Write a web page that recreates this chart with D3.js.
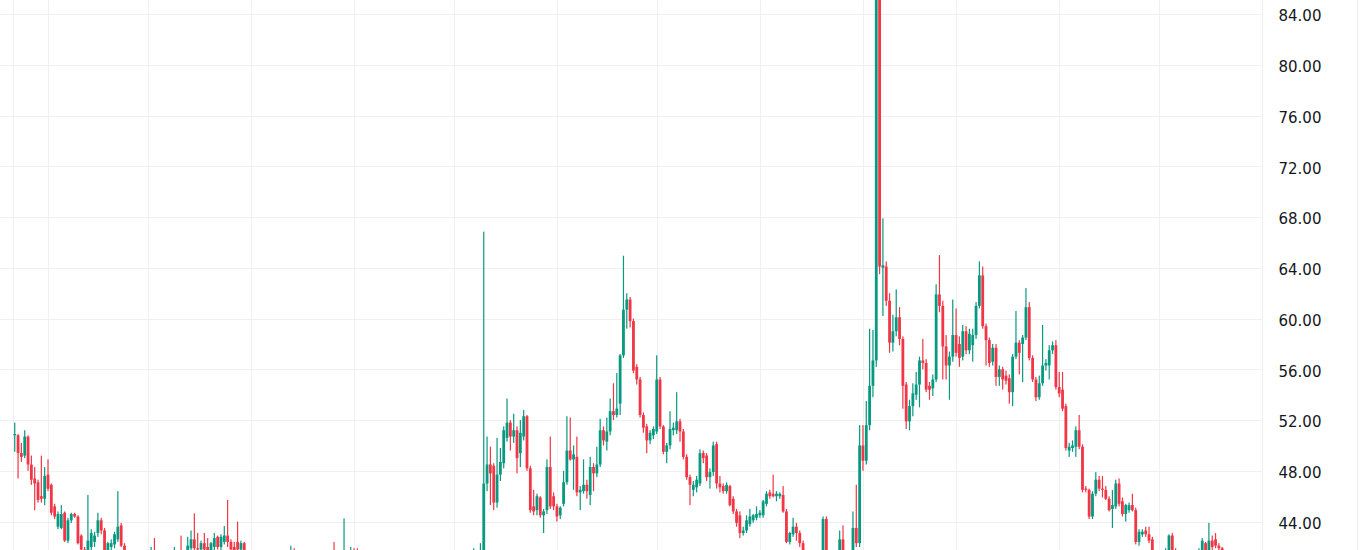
<!DOCTYPE html>
<html><head><meta charset="utf-8">
<script src="https://cdn.jsdelivr.net/npm/d3@7"></script>
<style>html,body{margin:0;padding:0;background:#fff;overflow:hidden}</style>
</head><body>
<svg id="chart" width="1370" height="550"></svg>
<script>
// ---- data (daily candles, first candle 2024-05-22) ----
const firstDay = "2024-05-22";
const gridDates = ["2024-06-01","2024-07-01","2024-08-01","2024-09-01","2024-10-01","2024-11-01","2024-12-01","2025-01-01","2025-02-01","2025-03-01","2025-04-01","2025-05-01"];
const yTicks = [44,48,52,56,60,64,68,72,76,80,84];

const opens = [
50.8,50.8,49.4,49.2,50.7,48.5,47.4,47.1,46.0,45.8,
47.7,46.9,45.2,43.6,43.5,44.7,42.5,44.1,44.6,44.4,
42.9,41.8,41.0,42.0,42.4,43.1,44.1,43.3,41.7,42.0,
42.2,42.6,43.7,42.1,41.2,40.6,41.0,40.7,40.2,40.5,
40.9,40.6,41.3,41.0,40.4,40.7,40.5,40.8,40.6,41.1,
41.4,41.2,41.5,41.9,42.6,41.9,41.8,42.3,42.0,41.5,
42.0,42.8,42.0,42.4,42.9,42.4,42.0,42.4,41.8,42.3,
41.2,40.6,40.3,40.6,40.3,39.9,40.2,40.5,40.2,39.9,
40.1,40.4,40.8,40.5,41.2,40.8,40.4,40.6,40.2,40.0,
40.3,40.1,40.4,40.7,40.4,40.8,41.0,40.7,40.9,41.1,
41.5,41.0,41.4,41.2,40.9,40.5,40.8,40.3,40.6,40.4,
40.0,40.3,40.7,40.4,40.1,39.8,40.2,40.5,40.3,39.9,
40.3,40.6,40.4,40.7,40.5,40.1,40.4,40.6,40.3,40.0,
40.4,40.8,40.6,40.3,40.6,40.9,40.6,40.8,40.5,41.0,
40.7,40.8,47.0,48.5,48.4,45.5,47.7,48.6,50.6,51.8,
50.7,51.2,49.4,50.7,52.3,48.2,45.2,44.9,45.9,44.5,
44.9,48.3,46.0,45.2,44.5,45.4,47.1,49.6,48.9,49.1,
46.3,46.4,46.9,46.1,48.3,47.8,48.5,51.2,50.3,51.1,
52.7,52.4,53.3,57.1,60.7,61.5,59.8,56.2,55.2,52.4,
51.5,50.4,50.8,51.1,55.2,51.5,49.5,50.0,51.2,51.2,
51.9,51.1,49.1,47.5,46.5,46.7,47.0,49.4,49.2,47.5,
47.9,50.1,47.0,46.8,46.4,46.8,45.8,44.8,44.5,43.1,
43.3,43.8,44.1,44.3,44.5,44.5,45.4,46.3,46.2,46.0,
46.0,46.1,44.8,42.4,43.0,43.6,43.1,42.3,41.4,40.6,
40.1,40.8,41.1,40.9,44.2,41.0,40.3,40.7,40.4,42.6,
41.2,41.4,41.0,43.5,42.3,50.0,48.8,51.6,54.7,56.7,
93.0,64.0,64.1,61.4,58.1,59.0,60.1,58.4,54.8,51.9,
53.1,54.0,54.8,56.7,56.5,54.7,54.5,55.2,61.9,61.0,
57.8,56.3,57.0,58.7,58.0,57.0,59.0,57.5,57.9,58.7,
61.0,63.4,59.4,58.3,56.6,57.7,55.4,56.0,55.5,55.3,
54.2,57.0,58.1,58.0,58.5,60.9,56.9,55.2,53.8,54.9,
56.3,56.3,57.5,57.9,54.6,54.4,53.1,49.6,49.8,49.9,
51.2,49.9,46.6,46.5,44.4,46.2,47.3,46.6,46.5,45.8,
45.0,45.2,47.0,45.6,44.6,44.9,45.3,44.9,42.4,43.0,
43.3,43.0,42.6,41.4,40.8,40.5,40.9,41.4,42.9,41.6,
41.1,40.6,40.4,40.7,40.5,40.8,41.0,41.5,42.3,41.6,
42.5,42.6,42.1,41.9];

const highs = [
51.8,50.9,50.2,51.2,50.8,49.2,48.3,47.3,49.2,48.3,
48.9,47.0,45.4,44.8,45.3,44.8,44.3,44.7,44.7,44.5,
43.0,42.0,46.1,43.4,43.2,44.7,44.3,43.5,42.4,42.6,
43.2,46.4,43.9,42.3,41.5,41.2,41.4,41.0,40.8,41.1,
41.3,42.0,42.7,41.4,40.9,41.2,41.0,41.3,42.0,41.6,
42.9,41.6,42.8,43.3,44.65,43.1,42.5,43.1,42.7,42.4,
43.1,42.9,43.0,43.65,45.7,42.6,42.4,44.0,42.5,42.4,
41.5,41.1,40.9,41.0,40.7,40.5,40.8,40.9,40.6,40.4,
40.7,41.0,41.3,42.1,41.9,41.2,40.9,41.0,40.6,40.5,
40.8,40.6,40.9,41.1,40.9,41.3,42.4,41.2,41.4,44.25,
41.6,42.0,41.9,41.9,41.2,41.0,41.1,40.8,41.0,40.7,
40.6,40.9,41.1,40.8,40.5,40.4,40.7,40.9,40.6,40.5,
40.8,41.0,40.9,41.2,40.8,40.7,40.9,41.0,40.7,40.6,
41.0,41.2,41.0,40.8,41.1,41.3,41.0,41.2,41.9,41.4,
42.3,66.85,50.7,49.9,48.6,50.6,49.8,51.5,53.7,52.0,
52.5,51.5,52.0,52.8,52.4,48.4,46.5,46.2,46.0,45.0,
48.9,50.7,46.3,45.4,45.2,48.0,52.3,52.2,50.0,50.7,
46.8,48.9,47.3,49.1,48.6,49.9,52.1,51.5,52.2,53.7,
54.9,55.7,57.2,64.95,62.0,61.7,60.0,56.4,55.4,52.6,
51.7,51.2,51.5,57.1,55.4,51.6,50.2,52.7,51.8,54.2,
52.1,51.3,49.3,47.7,47.2,47.6,49.7,49.6,49.4,48.2,
50.3,50.3,47.6,47.0,47.1,46.9,46.0,45.0,44.8,43.6,
44.5,45.0,44.6,45.2,44.9,45.7,46.4,46.5,47.7,46.4,
46.3,46.8,45.0,43.2,44.3,43.9,43.3,42.5,41.6,41.0,
41.3,41.5,41.6,44.4,44.4,41.3,41.0,41.2,43.3,43.7,
41.6,41.7,44.8,46.9,51.6,51.6,53.5,59.2,59.1,95.0,
94.0,67.9,64.5,62.0,60.3,62.3,60.9,58.6,55.0,53.6,
54.9,55.8,57.0,58.4,56.8,55.0,55.6,62.7,65.0,61.4,
58.7,57.4,61.5,60.8,58.6,59.5,59.4,59.2,59.2,61.3,
64.5,64.1,59.6,58.5,58.0,58.0,56.3,56.2,55.9,55.6,
57.2,60.6,58.3,58.7,62.4,61.3,57.1,55.4,55.5,59.5,
56.8,57.9,58.2,58.3,55.8,55.8,53.3,50.2,50.4,51.5,
52.4,50.1,46.8,46.6,46.4,47.9,47.6,47.6,46.8,46.0,
46.5,47.3,47.4,45.9,45.4,45.5,46.2,45.1,43.4,43.4,
43.6,43.6,42.8,41.6,41.2,41.0,41.9,43.0,43.1,41.9,
41.4,41.0,40.9,41.2,41.0,41.3,41.9,42.7,42.4,43.9,
42.9,43.1,42.3,42.0];

const lows = [
49.5,47.4,48.7,49.0,48.0,46.9,44.9,45.5,45.5,45.3,
46.4,44.5,44.2,43.4,43.4,42.4,42.3,43.9,44.3,42.2,
41.6,40.5,40.7,41.5,42.0,42.8,43.0,41.4,41.3,41.6,
41.9,42.4,42.0,40.9,40.3,40.2,40.4,39.9,39.8,40.1,
40.3,40.4,40.8,40.2,39.8,40.2,40.0,40.4,40.3,40.6,
40.9,40.7,41.2,41.6,41.6,41.5,41.3,41.6,41.2,41.2,
41.7,41.8,41.7,42.2,42.0,41.6,41.2,41.5,41.6,40.9,
40.4,40.0,39.8,40.1,39.6,39.5,39.9,40.0,39.7,39.5,
39.8,40.1,40.3,40.3,40.6,40.1,39.9,40.0,39.7,39.6,
39.9,39.7,40.0,40.2,40.1,40.4,40.5,40.3,40.5,40.8,
40.7,40.8,40.9,40.7,40.2,40.1,40.0,39.9,40.2,39.8,
39.6,40.0,40.2,39.9,39.5,39.4,39.9,40.0,39.7,39.6,
39.9,40.2,40.0,40.3,39.9,39.8,40.1,40.2,39.8,39.7,
40.1,40.4,40.1,39.9,40.3,40.4,40.2,40.4,40.3,40.5,
40.5,40.5,46.4,45.3,44.9,45.1,47.2,48.2,50.3,49.6,
50.2,47.8,48.3,50.4,48.0,44.7,44.5,44.5,44.3,43.1,
44.6,45.0,44.9,44.0,44.2,45.2,46.9,48.8,46.5,46.0,
44.9,46.2,45.8,45.3,46.4,47.5,48.3,50.0,49.6,50.8,
52.0,52.2,52.4,56.9,59.2,59.3,55.7,54.8,52.2,51.0,
49.4,50.1,50.5,50.9,51.3,49.3,48.6,49.7,50.8,50.9,
50.3,48.9,47.3,45.3,46.0,46.3,46.8,48.6,47.2,46.6,
47.6,46.6,46.3,46.2,46.2,45.2,44.6,43.6,42.7,42.9,
43.1,43.6,43.9,44.1,44.3,44.3,45.2,45.8,45.9,45.6,
45.8,44.7,42.3,42.2,42.8,42.5,42.0,41.0,40.2,39.8,
39.7,40.3,40.5,40.6,40.8,39.9,39.8,40.0,40.2,40.8,
40.5,40.6,40.8,42.0,42.0,48.0,48.5,51.2,53.8,56.2,
63.5,60.2,61.0,57.3,57.4,58.6,57.9,52.9,51.3,51.2,
52.3,53.6,53.0,56.0,54.2,53.6,53.9,55.0,60.5,55.2,
55.2,53.6,56.6,57.0,56.2,56.7,57.2,57.2,56.6,58.4,
60.8,59.2,56.3,56.2,56.3,54.7,54.7,54.4,54.8,53.3,
53.1,56.8,55.6,55.0,58.3,56.7,55.0,53.5,53.6,54.7,
55.9,55.2,57.2,54.4,53.8,52.7,49.6,49.1,49.5,49.1,
49.7,46.3,46.3,44.2,44.2,46.0,46.4,45.9,45.7,44.8,
43.5,45.0,45.2,44.4,44.0,44.7,44.8,42.2,42.1,42.8,
42.8,42.3,41.0,40.5,40.2,40.0,40.6,41.1,41.3,40.8,
40.3,40.1,39.9,40.4,40.2,40.5,40.7,41.2,41.2,41.4,
41.7,41.9,41.6,41.3];

const closes = [
50.9,49.4,49.1,50.7,48.5,47.3,47.0,45.7,45.8,47.6,
46.6,44.7,44.4,44.6,44.6,42.5,44.1,44.6,44.4,42.3,
41.8,40.8,42.5,43.1,42.9,44.1,43.3,41.7,42.3,42.3,
43.0,43.6,42.1,41.2,40.6,41.0,40.7,40.2,40.5,40.9,
40.6,41.3,41.0,40.4,40.7,40.5,40.8,40.6,41.1,41.4,
41.2,41.5,42.1,42.6,41.9,41.8,42.3,41.8,41.5,42.3,
42.7,42.0,42.8,42.9,42.4,41.8,41.5,41.8,42.3,41.2,
40.6,40.3,40.6,40.3,39.9,40.2,40.5,40.2,39.9,40.1,
40.4,40.8,40.5,41.2,40.8,40.4,40.6,40.2,40.0,40.3,
40.1,40.4,40.7,40.4,40.8,41.0,40.7,40.9,41.1,41.5,
41.0,41.4,41.1,40.9,40.5,40.8,40.3,40.6,40.4,40.0,
40.3,40.7,40.4,40.1,39.8,40.2,40.5,40.3,39.9,40.3,
40.6,40.4,40.7,40.5,40.1,40.4,40.6,40.3,40.0,40.4,
40.8,40.6,40.3,40.6,40.9,40.6,40.8,40.5,41.0,40.7,
40.8,47.0,48.5,47.8,45.5,47.7,48.7,51.2,51.8,50.7,
51.2,49.0,51.0,52.3,48.2,44.9,44.8,46.0,44.5,44.8,
48.3,45.2,45.2,44.4,45.1,47.1,49.6,48.9,49.3,46.3,
46.5,46.9,46.4,48.3,47.8,48.5,51.2,50.4,51.1,52.7,
52.4,52.9,57.1,60.7,61.5,59.8,55.9,55.2,52.4,51.4,
50.4,51.0,51.3,55.2,51.5,49.5,50.0,51.3,51.4,51.9,
51.1,49.1,47.5,46.9,46.9,47.3,49.4,49.0,47.5,47.9,
50.0,47.0,46.7,46.4,46.9,45.3,44.8,43.9,43.1,43.3,
44.1,44.4,44.5,44.6,44.7,45.6,46.2,46.0,46.0,46.2,
46.2,44.8,42.4,43.1,43.6,43.1,42.3,41.4,40.6,40.1,
40.8,41.2,41.4,44.2,41.0,40.3,40.7,40.4,42.6,41.2,
41.4,41.0,43.5,42.3,50.0,48.8,51.6,54.7,56.7,93.0,
64.1,64.2,61.4,58.1,59.0,60.1,58.4,54.7,51.9,53.1,
54.1,54.8,56.7,56.5,54.4,54.4,55.2,61.9,61.0,57.8,
56.3,57.0,58.7,57.3,56.9,59.0,57.5,58.8,58.7,61.0,
63.4,59.4,58.3,56.5,57.7,55.4,56.0,55.2,55.1,54.2,
57.0,58.1,57.3,58.5,60.9,56.9,55.2,53.8,54.9,56.3,
56.5,57.5,57.9,54.6,54.1,52.9,49.8,49.9,50.0,51.2,
49.9,46.5,46.5,44.4,46.2,47.3,46.6,46.5,45.8,44.9,
45.3,47.0,45.4,44.6,45.3,45.3,44.9,42.4,43.2,43.2,
43.0,42.5,41.4,40.8,40.5,40.9,41.3,42.9,41.6,41.1,
40.6,40.4,40.7,40.5,40.8,41.0,41.5,42.5,41.6,42.5,
42.0,42.1,41.9,41.6];

// ---- layout ----
const W = 1370, H = 550;
const plotLeft = 13, plotRight = 1262.5, axisRight = 1357.5;
const upColor = "#089981", downColor = "#F23645";
const gridColor = "#f0f0f0";

const svg = d3.select("#chart");
svg.append("rect").attr("width", W).attr("height", H).attr("fill", "#fff");

const day = 864e5;
const t0 = Date.parse(firstDay + "T00:00:00Z");
const candles = opens.map((o, i) => ({
  date: new Date(t0 + i * day), o, h: highs[i], l: lows[i], c: closes[i]
}));

const x = d3.scaleUtc()
  .domain([new Date("2024-06-01T00:00:00Z"), new Date("2025-05-01T00:00:00Z")])
  .range([48, 1159]);
const y = d3.scaleLinear().domain([44, 84]).range([521.6, 14]);

// grid
const grid = svg.append("g");
grid.selectAll("line.h").data(yTicks).join("line")
  .attr("x1", 0).attr("x2", plotRight)
  .attr("y1", d => Math.round(y(d)) + 0.5).attr("y2", d => Math.round(y(d)) + 0.5)
  .attr("stroke", gridColor).attr("stroke-width", 1);
grid.selectAll("line.v").data(gridDates).join("line")
  .attr("x1", d => Math.round(x(new Date(d + "T00:00:00Z"))) + 0.5)
  .attr("x2", d => Math.round(x(new Date(d + "T00:00:00Z"))) + 0.5)
  .attr("y1", 0).attr("y2", H)
  .attr("stroke", gridColor).attr("stroke-width", 1);
grid.append("line").attr("x1", plotLeft + 0.5).attr("x2", plotLeft + 0.5)
  .attr("y1", 0).attr("y2", H).attr("stroke", gridColor);

// candles
svg.append("clipPath").attr("id", "plotclip")
  .append("rect").attr("x", 0).attr("y", 0).attr("width", plotRight).attr("height", H);
const cg = svg.append("g").attr("clip-path", "url(#plotclip)");
const bodyW = 2.8;
const g = cg.selectAll("g.c").data(candles).join("g")
  .attr("fill", d => d.c >= d.o ? upColor : downColor);
g.append("rect")
  .attr("x", d => x(d.date) - 0.6).attr("width", 1.2)
  .attr("y", d => y(d.h)).attr("height", d => Math.max(1, y(d.l) - y(d.h)));
g.append("rect")
  .attr("x", d => x(d.date) - bodyW / 2).attr("width", bodyW)
  .attr("y", d => y(Math.max(d.o, d.c)))
  .attr("height", d => Math.max(1, Math.abs(y(d.o) - y(d.c))));

// price axis
svg.append("line").attr("x1", plotRight).attr("x2", plotRight).attr("y1", 0).attr("y2", H)
  .attr("stroke", "#eeeeee");
svg.append("line").attr("x1", axisRight).attr("x2", axisRight).attr("y1", 0).attr("y2", H)
  .attr("stroke", "#eeeeee");
const axis = svg.append("g").attr("transform", `translate(${plotRight},0)`)
  .call(d3.axisRight(y).tickValues(yTicks).tickSize(0).tickPadding(16).tickFormat(d3.format(".2f")));
axis.select(".domain").remove();
axis.selectAll("text")
  .attr("fill", "#131722")
  .attr("dy", "0.45em")
  .style("font-family", "'DejaVu Sans', sans-serif")
  .style("font-size", "15px");
</script>
</body></html>
